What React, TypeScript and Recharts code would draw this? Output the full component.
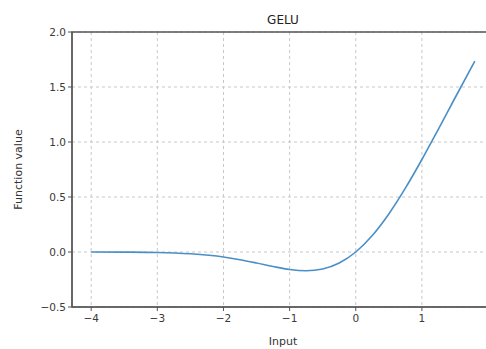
import {
  CartesianGrid,
  Label,
  Line,
  LineChart,
  ReferenceArea,
  XAxis,
  YAxis,
} from 'recharts'

const inputs = [-4, -3.5, -3, -2.5, -2, -1.75, -1.5, -1.25, -1, -0.75, -0.5, -0.25, 0, 0.25, 0.5, 0.75, 1, 1.25, 1.5, 1.8]
const gelu = [0, -0.001, -0.004, -0.016, -0.045, -0.07, -0.1, -0.132, -0.159, -0.17, -0.154, -0.1, 0, 0.15, 0.346, 0.58, 0.841, 1.118, 1.4, 1.735]
const xTicks = [-4, -3, -2, -1, 0, 1]
const yTicks = [-0.5, 0, 0.5, 1, 1.5, 2]

const data = inputs.map((x, i) => ({ x, y: gelu[i] }))

const axisColor = '#555'
const tickStyle = { fill: '#3a3a3a', fontSize: 10.5, fontFamily: 'DejaVu Sans' }

export default function App() {
  return (
    <div style={{ position: 'fixed', left: 0, top: 0, width: 486, height: 349, overflow: 'hidden', background: '#fff' }}>
      <LineChart width={500} height={349} data={data} margin={{ top: 32, right: 6, left: 0, bottom: 20 }}>
        <CartesianGrid stroke="#c8c8c8" strokeDasharray="3 3" />
        <XAxis
          dataKey="x"
          type="number"
          domain={[-4.29, 2.09]}
          ticks={xTicks}
          tickFormatter={(v: number) => (v < 0 ? `\u2212${Math.abs(v)}` : `${v}`)}
          allowDataOverflow
          height={22}
          tickSize={4}
          tickMargin={4}
          tick={tickStyle}
          stroke={axisColor}
        >
          <Label value="Input" position="bottom" offset={8} style={{ fill: '#333', fontSize: 11, fontFamily: 'DejaVu Sans' }} />
        </XAxis>
        <YAxis
          type="number"
          domain={[-0.5, 2]}
          ticks={yTicks}
          tickFormatter={(v: number) => (v < 0 ? `\u2212${Math.abs(v).toFixed(1)}` : v.toFixed(1))}
          allowDataOverflow
          width={72}
          tickSize={4}
          tick={tickStyle}
          stroke={axisColor}
        >
          <Label
            value="Function value"
            angle={-90}
            position="insideLeft"
            offset={18}
            style={{ fill: '#333', fontSize: 11, fontFamily: 'DejaVu Sans', textAnchor: 'middle' }}
          />
        </YAxis>
        <ReferenceArea x1={-4.29} x2={2.09} y1={-0.5} y2={2} fill="none" stroke={axisColor} strokeWidth={1.5} ifOverflow="visible" />
        <Line
          type="monotone"
          dataKey="y"
          stroke="#4a8fc6"
          strokeWidth={1.6}
          dot={false}
          isAnimationActive={false}
        />
        <text x={283} y={24} textAnchor="middle" fontSize={12} fontFamily="DejaVu Sans" fill="#222">
          GELU
        </text>
      </LineChart>
    </div>
  )
}
